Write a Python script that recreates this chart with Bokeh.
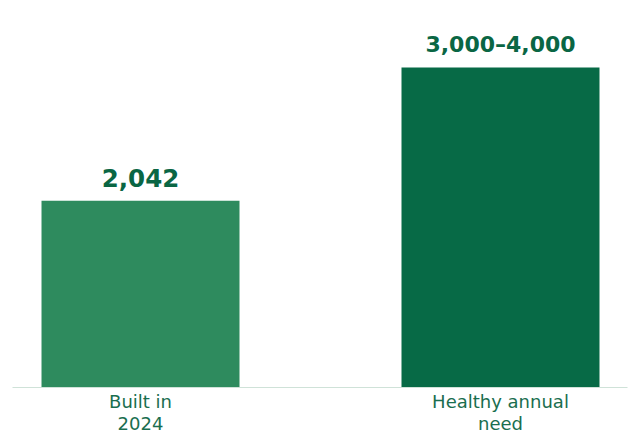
from bokeh.plotting import figure
from bokeh.models import ColumnDataSource, Range1d, FixedTicker
from bokeh.core.properties import value
from bokeh.embed import file_html
from bokeh.resources import INLINE

categories = ["Built in\n2024", "Healthy annual\nneed"]
values = [2042, 3500]
value_labels = ["2,042", "3,000–4,000"]
bar_colors = ["#2e8b5e", "#076a46"]
label_sizes = ["24.5px", "22px"]

xs = list(range(len(categories)))
src = ColumnDataSource(dict(x=xs, top=values, color=bar_colors,
                            label=value_labels, size=label_sizes))

p = figure(frame_width=615, frame_height=387, output_backend="svg", toolbar_location=None,
           x_range=Range1d(-0.3556, 1.3528), y_range=Range1d(0, 4233),
           min_border_left=12, min_border_right=7, min_border_top=0,
           min_border_bottom=0)
p.outline_line_color = None
p.xgrid.visible = False
p.ygrid.visible = False
p.yaxis.visible = False

p.vbar(x="x", top="top", width=0.55, color="color", line_color=None, source=src)
p.text(x="x", y="top", text="label", source=src, text_align="center",
       text_baseline="alphabetic", y_offset=-23, text_font_size="size",
       text_font=value("DejaVu Sans"), text_font_style="bold", text_color="#0a6644")

ax = p.xaxis[0]
ax.ticker = FixedTicker(ticks=xs)
ax.major_label_overrides = {i: c for i, c in enumerate(categories)}
ax.major_tick_line_color = None
ax.minor_tick_line_color = None
ax.axis_line_color = "#cfe2d8"
ax.axis_line_width = 1
ax.major_label_text_font = "DejaVu Sans"
ax.major_label_text_font_size = "18px"
ax.major_label_text_line_height = 1.05
ax.major_label_text_color = "#1a6e4f"
ax.major_label_standoff = -3

open("out.html", "w").write(file_html(p, INLINE))
